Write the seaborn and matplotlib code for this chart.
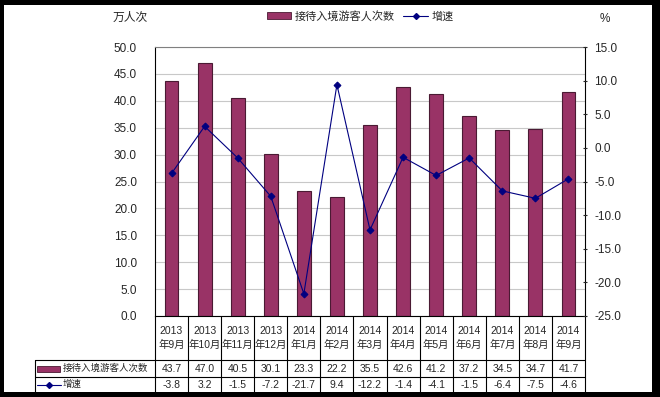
import matplotlib
matplotlib.use("Agg")
import matplotlib.pyplot as plt
import matplotlib.patches as mpatches
import matplotlib.lines as mlines
import numpy as np
import seaborn as sns

months = ["2013\n年9月", "2013\n年10月", "2013\n年11月", "2013\n年12月",
          "2014\n年1月", "2014\n年2月", "2014\n年3月", "2014\n年4月",
          "2014\n年5月", "2014\n年6月", "2014\n年7月", "2014\n年8月", "2014\n年9月"]
visitors = [43.7, 47.0, 40.5, 30.1, 23.3, 22.2, 35.5, 42.6, 41.2, 37.2, 34.5, 34.7, 41.7]
growth = [-3.8, 3.2, -1.5, -7.2, -21.7, 9.4, -12.2, -1.4, -4.1, -1.5, -6.4, -7.5, -4.6]
bar_label = "接待入境游客人次数"
line_label = "增速"
left_unit = "万人次"
right_unit = "%"
left_ticks = [0, 5, 10, 15, 20, 25, 30, 35, 40, 45, 50]
right_ticks = [-25, -20, -15, -10, -5, 0, 5, 10, 15]

sns.set_style("white")
plt.rcParams["font.family"] = ["Liberation Sans", "Noto Sans CJK SC", "DejaVu Sans"]
plt.rcParams["axes.unicode_minus"] = False

BAR = "#993366"
BAR_EDGE = "#4a1a33"
LINE = "#000080"
W, H = 660, 397

fig = plt.figure(figsize=(6.6, 3.97), dpi=100, facecolor="black")
fig.patches.append(mpatches.Rectangle((4 / W, 5 / H), (652 - 4) / W, (392 - 5) / H,
                                      transform=fig.transFigure, facecolor="white",
                                      edgecolor="none", zorder=-10))

ax_l, ax_r, ax_t, ax_b = 155, 585, 47, 316
ax = fig.add_axes([ax_l / W, (H - ax_b) / H, (ax_r - ax_l) / W, (ax_b - ax_t) / H])
ax.set_facecolor("white")

sns.barplot(x=months, y=visitors, color=BAR, edgecolor=BAR_EDGE, linewidth=0.8,
            width=0.42, ax=ax, saturation=1)
ax.set_ylim(0, 50)
ax.set_yticks(left_ticks)
ax.set_yticklabels([f"{v:.1f}" for v in left_ticks], fontsize=8.5)
ax.set_xticks([])
ax.set_xlabel("")
ax.set_ylabel("")
ax.yaxis.grid(True, color="#c8c8c8", linewidth=0.8)
ax.set_axisbelow(True)
ax.tick_params(axis="y", length=0, pad=13)
for s in ["left", "right"]:
    ax.spines[s].set_color("black")
    ax.spines[s].set_linewidth(0.8)
ax.spines["top"].set_color("#808080")
ax.spines["top"].set_linewidth(0.8)
ax.spines["bottom"].set_color("black")
ax.spines["bottom"].set_linewidth(0.8)

ax2 = ax.twinx()
xpos = np.arange(len(months))
sns.lineplot(x=xpos, y=growth, color=LINE, marker="D", markersize=3.5,
             markeredgecolor=LINE, linewidth=0.8, ax=ax2)
ax2.set_ylim(-25, 15)
ax2.set_yticks(right_ticks)
ax2.set_yticklabels([f"{v:.1f}" for v in right_ticks], fontsize=8.5)
ax2.tick_params(axis="y", length=3, width=0.8, direction="inout", pad=5)
ax2.set_xlim(-0.5, len(months) - 0.5)
ax.set_xlim(-0.5, len(months) - 0.5)
ax2.set_ylabel("")
for s in ax2.spines.values():
    s.set_visible(False)

# data table
axh = ax_b - ax_t
def yf(px):
    return (ax_b - px) / axh

y_row1 = 360
y_row2 = 377
y_row3 = 392
xt = ax.get_xaxis_transform()
lab_x = (35 - ax_l) / (ax_r - ax_l)
lc = dict(color="black", linewidth=0.8, clip_on=False)

for i in range(len(months) + 1):
    ax.plot([i - 0.5, i - 0.5], [0, yf(y_row3)], transform=xt, **lc)
ax.plot([lab_x, 1], [yf(y_row1), yf(y_row1)], transform=ax.transAxes, **lc)
ax.plot([lab_x, 1], [yf(y_row2), yf(y_row2)], transform=ax.transAxes, **lc)
ax.plot([lab_x, lab_x], [yf(y_row1), yf(y_row3)], transform=ax.transAxes, **lc)

for i, m in enumerate(months):
    ax.text(i, yf((ax_b + y_row1) / 2), m, transform=xt, ha="center", va="center",
            fontsize=7.5, linespacing=1.5)
    ax.text(i, yf((y_row1 + y_row2) / 2), f"{visitors[i]:.1f}", transform=xt,
            ha="center", va="center", fontsize=7.5)
    ax.text(i, yf((y_row2 + y_row3) / 2), f"{growth[i]:.1f}", transform=xt,
            ha="center", va="center", fontsize=7.5)

px2ax = lambda px: (px - ax_l) / (ax_r - ax_l)
ym1 = yf((y_row1 + y_row2) / 2)
ym2 = yf((y_row2 + y_row3) / 2)
ax.add_patch(mpatches.Rectangle((px2ax(37), ym1 - 3 / axh), (60 - 37) / (ax_r - ax_l), 6 / axh,
                                transform=ax.transAxes, facecolor=BAR, edgecolor=BAR_EDGE,
                                linewidth=0.6, clip_on=False))
ax.text(px2ax(63), ym1, bar_label, transform=ax.transAxes, ha="left", va="center", fontsize=6.8)
ax.plot([px2ax(37), px2ax(61)], [ym2, ym2], transform=ax.transAxes, color=LINE,
        linewidth=0.8, clip_on=False)
ax.plot([px2ax(49)], [ym2], transform=ax.transAxes, color=LINE, marker="D",
        markersize=3, clip_on=False)
ax.text(px2ax(63), ym2, line_label, transform=ax.transAxes, ha="left", va="center", fontsize=6.8)

fig.text(130 / W, (H - 18) / H, left_unit, ha="center", va="center", fontsize=8.5)
fig.text(605 / W, (H - 19) / H, right_unit, ha="center", va="center", fontsize=8.5)

h1 = mpatches.Patch(facecolor=BAR, edgecolor=BAR_EDGE, linewidth=0.6)
h2 = mlines.Line2D([], [], color=LINE, marker="D", markersize=3, linewidth=0.8)
fig.legend([h1, h2], [bar_label, line_label], loc="center", ncol=2,
           bbox_to_anchor=(360 / W, (H - 16) / H), frameon=False, fontsize=8,
           handlelength=2.2, handletextpad=0.3, columnspacing=0.8)

fig.savefig("out.png", dpi=100, facecolor="black")
